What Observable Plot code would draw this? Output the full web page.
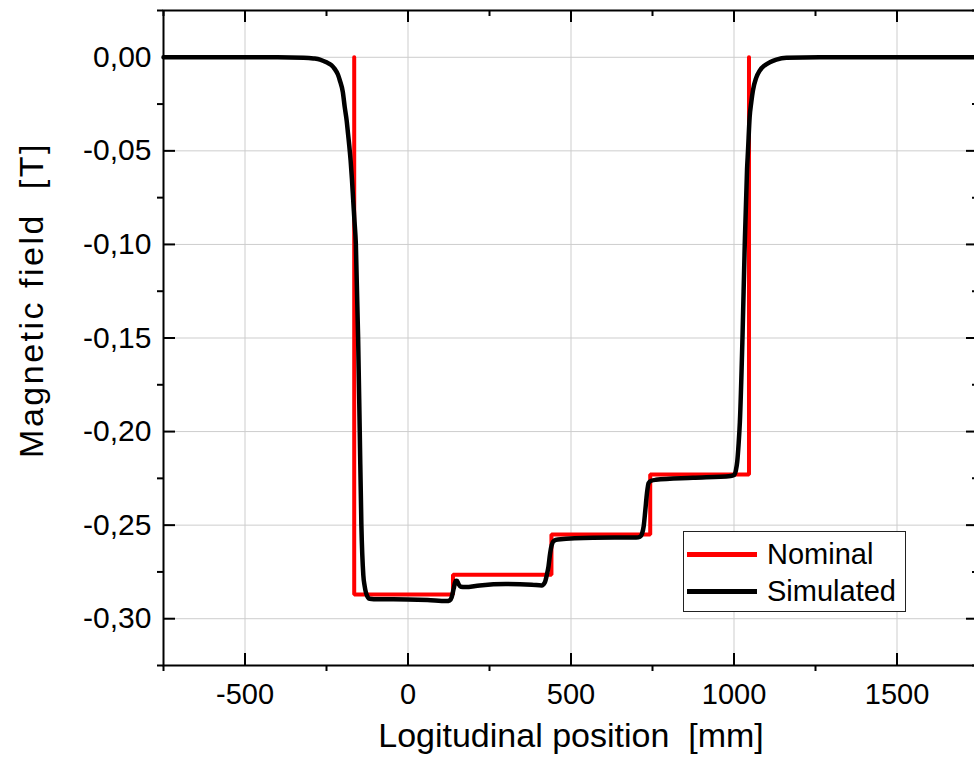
<!DOCTYPE html>
<html>
<head>
<meta charset="utf-8">
<script src="https://cdn.jsdelivr.net/npm/d3@7"></script>
<script src="https://cdn.jsdelivr.net/npm/@observablehq/plot@0.6"></script>
<style>
  html, body { margin: 0; padding: 0; background: white; overflow: hidden; }
  #wrap { position: relative; width: 980px; height: 765px; font-family: "Liberation Sans", Arial, sans-serif; }
  #legend { position: absolute; left: 683px; top: 531px; width: 223px; height: 81px; border: 1px solid #222; background: white; box-sizing: border-box; }
  #legend .ln { position: absolute; left: 3px; width: 70px; height: 5px; }
  #legend .tx { position: absolute; left: 83px; font-size: 29px; line-height: 34px; color: black; white-space: nowrap; }
  #ytitle { position: absolute; left: 31px; top: 300px; transform: translate(-50%, -50%) rotate(-90deg); font-size: 34px; line-height: 40px; letter-spacing: 2.5px; white-space: pre; color: black; }
  svg text { white-space: pre; }
</style>
</head>
<body>
<div id="wrap"></div>
<script>
// ---- data ----
const nomX = [-165, -165, 138, 138, 440, 440, 743, 743, 1046, 1046];
const nomY = [0, -0.287, -0.287, -0.2765, -0.2765, -0.255, -0.255, -0.223, -0.223, 0];

const simX = [-750, -400, -320, -290, -270, -250, -235, -225, -215, -209, -200, -194, -188, -184, -180, -176, -172, -168, -164, -160, -153, -148, -143, -137, -133, -129, -118, -90, 0, 60, 118, 128, 134, 140, 146, 150, 155, 162, 175, 220, 300, 380, 410, 420, 426, 431, 436, 441, 448, 460, 567, 700, 712, 718, 723, 728, 733, 738, 746, 760, 874, 990, 1000, 1006, 1010, 1014, 1018, 1026, 1033, 1040, 1043, 1048, 1053, 1058, 1068, 1079, 1095, 1110, 1130, 1161, 1262, 1750];
const simY = [0, 0, -0.0002, -0.0006, -0.0012, -0.0027, -0.0042, -0.0062, -0.0092, -0.0124, -0.0185, -0.0267, -0.034, -0.0408, -0.0475, -0.0552, -0.065, -0.0766, -0.088, -0.0996, -0.15, -0.20, -0.25, -0.2768, -0.2825, -0.286, -0.2893, -0.2896, -0.2897, -0.29, -0.2906, -0.2902, -0.2885, -0.284, -0.2798, -0.2797, -0.2815, -0.2829, -0.2831, -0.2822, -0.2815, -0.2818, -0.2822, -0.2805, -0.2765, -0.272, -0.265, -0.2605, -0.2583, -0.2577, -0.2567, -0.2566, -0.2562, -0.2545, -0.2505, -0.242, -0.233, -0.2275, -0.2263, -0.2258, -0.2247, -0.2237, -0.2232, -0.2205, -0.216, -0.207, -0.195, -0.15, -0.10, -0.06, -0.0498, -0.032, -0.024, -0.0178, -0.011, -0.0071, -0.0042, -0.0027, -0.0013, -0.0003, 0, 0];

const xMajor = [-500, 0, 500, 1000, 1500];
const xMinor = [-750, -250, 250, 750, 1250, 1750];
const yMajor = [0, -0.05, -0.10, -0.15, -0.20, -0.25, -0.30];
const yMinor = [0.025, -0.025, -0.075, -0.125, -0.175, -0.225, -0.275, -0.325];

const xDomain = [-750, 1750];
const yDomain = [-0.325, 0.025];

const seriesNames = ["Nominal", "Simulated"];
const seriesColors = ["#ff0000", "#000000"];
const xTitle = "Logitudinal position  [mm]";
const yTitle = "Magnetic field  [T]";

// ---- build ----
const nominal = nomX.map((x, i) => ({x, y: nomY[i]}));
const simulated = simX.map((x, i) => ({x, y: simY[i]}));

const W = 980, H = 765, mL = 163, mR = 2, mT = 10, mB = 100;
const pw = W - mL - mR, ph = H - mT - mB;
const yFmt = d => d3.format(".2f")(d).replace("\u2212", "-").replace(".", ",");

const chart = Plot.plot({
  width: W, height: H,
  marginLeft: mL, marginRight: mR, marginTop: mT, marginBottom: mB,
  style: {fontFamily: "'Liberation Sans', Arial, sans-serif", color: "black", background: "white", overflow: "visible"},
  x: {domain: xDomain},
  y: {domain: yDomain},
  marks: [
    Plot.gridX(xMajor, {stroke: "#cdcdcd", strokeOpacity: 1, strokeWidth: 1}),
    Plot.gridY(yMajor, {stroke: "#cdcdcd", strokeOpacity: 1, strokeWidth: 1}),
    Plot.line(nominal, {x: "x", y: "y", stroke: seriesColors[0], strokeWidth: 4, strokeLinejoin: "miter"}),
    Plot.line(simulated, {x: "x", y: "y", stroke: seriesColors[1], strokeWidth: 4.5, curve: "monotone-x"}),
    Plot.frame({stroke: "black", strokeWidth: 2, strokeOpacity: 1}),
    Plot.tickX(xMajor, {x: d => d, stroke: "black", strokeWidth: 2, insetTop: ph - 12}),
    Plot.tickX(xMinor, {x: d => d, stroke: "black", strokeWidth: 2, insetTop: ph, insetBottom: -6}),
    Plot.tickX(xMajor, {x: d => d, stroke: "black", strokeWidth: 2, insetBottom: ph - 12}),
    Plot.tickX(xMinor, {x: d => d, stroke: "black", strokeWidth: 2, insetBottom: ph - 6}),
    Plot.tickY(yMajor, {y: d => d, stroke: "black", strokeWidth: 2, insetRight: pw - 12}),
    Plot.tickY(yMinor, {y: d => d, stroke: "black", strokeWidth: 2, insetRight: pw, insetLeft: -6}),
    Plot.tickY(yMajor, {y: d => d, stroke: "black", strokeWidth: 2, insetLeft: pw - 12}),
    Plot.tickY(yMinor, {y: d => d, stroke: "black", strokeWidth: 2, insetLeft: pw - 6}),
    Plot.axisX(xMajor, {anchor: "bottom", tickSize: 0, tickPadding: 18, fontSize: 29, tickFormat: d => String(d), label: null}),
    Plot.axisY(yMajor, {anchor: "left", tickSize: 0, tickPadding: 12, fontSize: 30, tickFormat: yFmt, label: null}),
    Plot.text([xTitle], {frameAnchor: "bottom", dy: 81, fontSize: 34, fill: "black"})
  ]
});

const wrap = document.getElementById("wrap");
wrap.appendChild(chart);

const yt = document.createElement("div");
yt.id = "ytitle";
yt.textContent = yTitle;
wrap.appendChild(yt);

// legend
const legend = document.createElement("div");
legend.id = "legend";
const rowCenters = [22, 59];
seriesNames.forEach((name, i) => {
  const ln = document.createElement("div");
  ln.className = "ln";
  ln.style.background = seriesColors[i];
  ln.style.top = (rowCenters[i] - 2.5) + "px";
  legend.appendChild(ln);
  const tx = document.createElement("div");
  tx.className = "tx";
  tx.textContent = name;
  tx.style.top = (rowCenters[i] - 17) + "px";
  legend.appendChild(tx);
});
wrap.appendChild(legend);
</script>
</body>
</html>
